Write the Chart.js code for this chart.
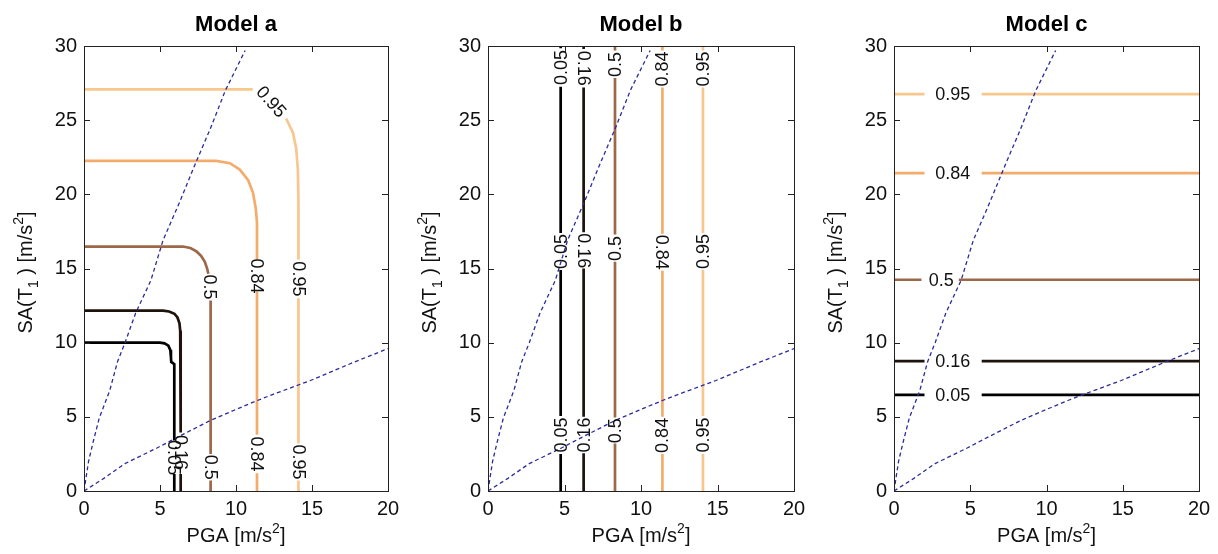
<!DOCTYPE html>
<html>
<head>
<meta charset="utf-8">
<script src="https://cdn.jsdelivr.net/npm/chart.js@4.4.1/dist/chart.umd.min.js"></script>
<style>
  html, body { margin: 0; padding: 0; background: #fff; }
  #wrap { position: relative; width: 1218px; height: 554px; }
  .panel { position: absolute; top: 0; width: 406px; height: 554px; }
</style>
</head>
<body>
<div id="wrap">
  <div class="panel" style="left:0"><canvas id="ca"></canvas></div>
  <div class="panel" style="left:406px"><canvas id="cb"></canvas></div>
  <div class="panel" style="left:812px"><canvas id="cc"></canvas></div>
</div>
<script>
const FONT = '"Liberation Sans", Arial, sans-serif';

// contour levels and their colours (copper-like map)
const levels = ["0.05", "0.16", "0.5", "0.84", "0.95"];
const levelColors = ["#000000", "#1e130c", "#9c6848", "#f4ac6c", "#f8c78e"];
const xTicks = [0, 5, 10, 15, 20];
const yTicks = [0, 5, 10, 15, 20, 25, 30];

// dashed blue curves, same on every panel  [PGA, SA]
const steepCurve = [[0,0],[0.3,2],[0.6,3.3],[1,4.9],[1.7,6.8],[2.2,8.7],[2.7,10],[3.4,12],
  [4.4,14.2],[5.2,16.9],[6.3,19.5],[7.3,22],[8.3,24.4],[9.3,27],[10.6,29.7]];
const shallowCurve = [[0,0],[1.3,0.85],[2.7,1.85],[4.8,2.9],[6.2,3.65],[8.3,4.75],[10,5.5],
  [11.4,6.1],[12.4,6.5],[14.9,7.45],[17.8,8.7],[20,9.6]];

// Model a contours (null = break where a label sits)
const aC05 = [[0,10],[5.0,10],[5.3,9.95],[5.55,9.8],[5.68,9.5],[5.72,9.0],[5.74,8.7],[5.94,8.55],
  [5.94,3.4],null,[5.94,1.15],[5.94,0]];
const aC16 = [[0,12.16],[5.2,12.16],[5.6,12.1],[5.95,11.95],[6.15,11.7],[6.28,11.3],[6.33,10.8],
  [6.36,10.2],[6.36,3.95],null,[6.36,1.15],[6.36,0]];
const aC50 = [[0,16.48],[6.5,16.48],[7.0,16.38],[7.4,16.15],[7.7,15.85],[7.95,15.45],[8.1,15.0],
  [8.18,14.65],null,[8.33,12.85],[8.33,2.5],null,[8.33,0.7],[8.33,0]];
const aC84 = [[0,22.26],[8.7,22.26],[9.6,22.1],[10.25,21.67],[10.8,20.95],[11.12,20.1],[11.3,19.05],
  [11.38,18.1],[11.38,15.6],null,[11.38,13.45],[11.38,3.8],null,[11.38,1.2],[11.38,0]];
const aC95 = [[0,27.07],[11.1,27.07],null,[13.3,25.1],[13.74,24.17],[13.96,23.1],[14.07,21.67],
  [14.11,19.5],[14.11,15.6],null,[14.11,13.0],[14.11,3.2],null,[14.11,0.7],[14.11,0]];
const aLabels = [["0.05",5.94,2.25,90],["0.16",6.36,2.6,90],["0.5",8.28,13.75,90],["0.5",8.33,1.6,90],
  ["0.84",11.38,14.5,90],["0.84",11.38,2.5,90],["0.95",14.11,14.3,90],["0.95",14.11,1.95,90],
  ["0.95",12.33,26.25,48]];

// Model b contours
const bC05 = [[4.75,0],[4.75,2.5],null,[4.75,5.05],[4.75,14.9],null,[4.75,17.4],[4.75,27.25],null,[4.75,29.85],[4.75,30]];
const bC16 = [[6.25,0],[6.25,2.55],null,[6.25,5.0],[6.25,15.0],null,[6.25,17.45],[6.25,27.2],null,[6.25,29.8],[6.25,30]];
const bC50 = [[8.3,0],[8.3,3.2],null,[8.3,4.95],[8.3,15.45],null,[8.3,17.3],[8.3,27.85],null,[8.3,29.7],[8.3,30]];
const bC84 = [[11.4,0],[11.4,2.5],null,[11.4,5.0],[11.4,14.85],null,[11.4,17.35],[11.4,27.2],null,[11.4,29.7],[11.4,30]];
const bC95 = [[14.05,0],[14.05,2.5],null,[14.05,5.05],[14.05,14.9],null,[14.05,17.4],[14.05,27.2],null,[14.05,29.7],[14.05,30]];
const bLabels = [
  ["0.05",4.75,28.55,-90],["0.16",6.25,28.5,90],["0.5",8.3,28.75,-90],["0.84",11.4,28.45,-90],["0.95",14.05,28.45,-90],
  ["0.05",4.75,16.15,-90],["0.16",6.25,16.2,90],["0.5",8.3,16.35,-90],["0.84",11.4,16.1,90],["0.95",14.05,16.15,-90],
  ["0.05",4.75,3.78,-90],["0.16",6.25,3.78,-90],["0.5",8.3,4.07,-90],["0.84",11.4,3.75,-90],["0.95",14.05,3.78,-90]];

// Model c contours
const cC05 = [[0,6.48],[2.0,6.48],null,[5.75,6.48],[20,6.48]];
const cC16 = [[0,8.76],[2.0,8.76],null,[5.75,8.76],[20,8.76]];
const cC50 = [[0,14.24],[1.8,14.24],null,[4.25,14.24],[20,14.24]];
const cC84 = [[0,21.43],[2.0,21.43],null,[5.75,21.43],[20,21.43]];
const cC95 = [[0,26.75],[2.0,26.75],null,[5.75,26.75],[20,26.75]];
const cLabels = [["0.95",3.85,26.75,0],["0.84",3.85,21.43,0],["0.5",3.1,14.24,0],
  ["0.16",3.85,8.76,0],["0.05",3.85,6.48,0]];

function toPoints(arr) {
  return arr.map(p => p ? { x: p[0], y: p[1] } : { x: null, y: null });
}

// text with sub/superscript parts: [text, 0 normal | 1 sub | 2 sup]
function drawRich(ctx, parts, size, px, py, angle) {
  const small = Math.round(size * 0.7);
  ctx.save();
  ctx.translate(px, py);
  ctx.rotate(angle);
  let w = 0;
  parts.forEach(([t, k]) => {
    ctx.font = (k ? small : size) + "px " + FONT;
    w += ctx.measureText(t).width;
  });
  let x = -w / 2;
  ctx.textAlign = "left";
  ctx.textBaseline = "alphabetic";
  parts.forEach(([t, k]) => {
    ctx.font = (k ? small : size) + "px " + FONT;
    const dy = k === 1 ? size * 0.3 : k === 2 ? -size * 0.45 : 0;
    ctx.fillText(t, x, dy);
    x += ctx.measureText(t).width;
  });
  ctx.restore();
}

function decorPlugin(title, labels) {
  return {
    id: "decor",
    afterDatasetsDraw(chart) {
      const { ctx, chartArea: a, scales: { x, y } } = chart;
      ctx.save();
      // contour labels
      ctx.fillStyle = "#111";
      ctx.font = "18px " + FONT;
      ctx.textAlign = "center";
      ctx.textBaseline = "middle";
      labels.forEach(([t, vx, vy, rot]) => {
        ctx.save();
        ctx.translate(x.getPixelForValue(vx), y.getPixelForValue(vy));
        ctx.rotate(rot * Math.PI / 180);
        ctx.fillText(t, 0, 1);
        ctx.restore();
      });
      // box and inward ticks
      ctx.strokeStyle = "#222";
      ctx.lineWidth = 1;
      ctx.strokeRect(Math.round(a.left) + 0.5, Math.round(a.top) + 0.5,
        Math.round(a.right - a.left), Math.round(a.bottom - a.top));
      ctx.beginPath();
      xTicks.forEach(v => {
        const px = Math.round(x.getPixelForValue(v)) + 0.5;
        ctx.moveTo(px, a.bottom); ctx.lineTo(px, a.bottom - 6);
        ctx.moveTo(px, a.top); ctx.lineTo(px, a.top + 6);
      });
      yTicks.forEach(v => {
        const py = Math.round(y.getPixelForValue(v)) + 0.5;
        ctx.moveTo(a.left, py); ctx.lineTo(a.left + 6, py);
        ctx.moveTo(a.right, py); ctx.lineTo(a.right - 6, py);
      });
      ctx.stroke();
      // title
      ctx.fillStyle = "#000";
      ctx.font = "bold 22px " + FONT;
      ctx.textAlign = "center";
      ctx.textBaseline = "alphabetic";
      ctx.fillText(title, (a.left + a.right) / 2, 31);
      // axis titles
      ctx.fillStyle = "#111";
      drawRich(ctx, [["PGA [m/s", 0], ["2", 2], ["]", 0]], 20, (a.left + a.right) / 2, 542, 0);
      drawRich(ctx, [["SA(T", 0], ["1", 1], [" ) [m/s", 0], ["2", 2], ["]", 0]], 20,
        a.left - 52, (a.top + a.bottom) / 2 + 4, -Math.PI / 2);
      ctx.restore();
    }
  };
}

function makeChart(id, title, contours, labels, yAxisWidth, rightPad) {
  const datasets = [
    { data: toPoints(steepCurve), borderColor: "#2b2b9c", borderWidth: 1.3, borderDash: [4, 3], order: 0 },
    { data: toPoints(shallowCurve), borderColor: "#2b2b9c", borderWidth: 1.3, borderDash: [4, 3], order: 0 }
  ];
  contours.forEach((c, i) => datasets.push({
    data: toPoints(c), borderColor: levelColors[i], borderWidth: 2.7, order: 1
  }));
  datasets.forEach(d => {
    d.showLine = true; d.pointRadius = 0; d.spanGaps = false; d.tension = 0; d.fill = false;
  });
  return new Chart(document.getElementById(id), {
    type: "scatter",
    data: { datasets },
    options: {
      responsive: true,
      maintainAspectRatio: false,
      animation: false,
      events: [],
      layout: { padding: { left: 0, right: rightPad, top: 46, bottom: 0 } },
      plugins: { legend: { display: false }, tooltip: { enabled: false } },
      scales: {
        x: {
          type: "linear", min: 0, max: 20,
          afterBuildTicks: s => { s.ticks = xTicks.map(v => ({ value: v })); },
          afterFit: s => { s.height = 63; },
          grid: { display: false, drawTicks: false },
          border: { display: false },
          ticks: { font: { family: FONT, size: 20 }, color: "#111", padding: 6, maxRotation: 0 }
        },
        y: {
          type: "linear", min: 0, max: 30,
          afterBuildTicks: s => { s.ticks = yTicks.map(v => ({ value: v })); },
          afterFit: s => { s.width = yAxisWidth; },
          grid: { display: false, drawTicks: false },
          border: { display: false },
          ticks: { font: { family: FONT, size: 20 }, color: "#111", padding: 7 }
        }
      }
    },
    plugins: [decorPlugin(title, labels)]
  });
}

makeChart("ca", "Model a", [aC05, aC16, aC50, aC84, aC95], aLabels, 84, 18);
makeChart("cb", "Model b", [bC05, bC16, bC50, bC84, bC95], bLabels, 82, 18);
makeChart("cc", "Model c", [cC05, cC16, cC50, cC84, cC95], cLabels, 82, 19);
</script>
</body>
</html>
